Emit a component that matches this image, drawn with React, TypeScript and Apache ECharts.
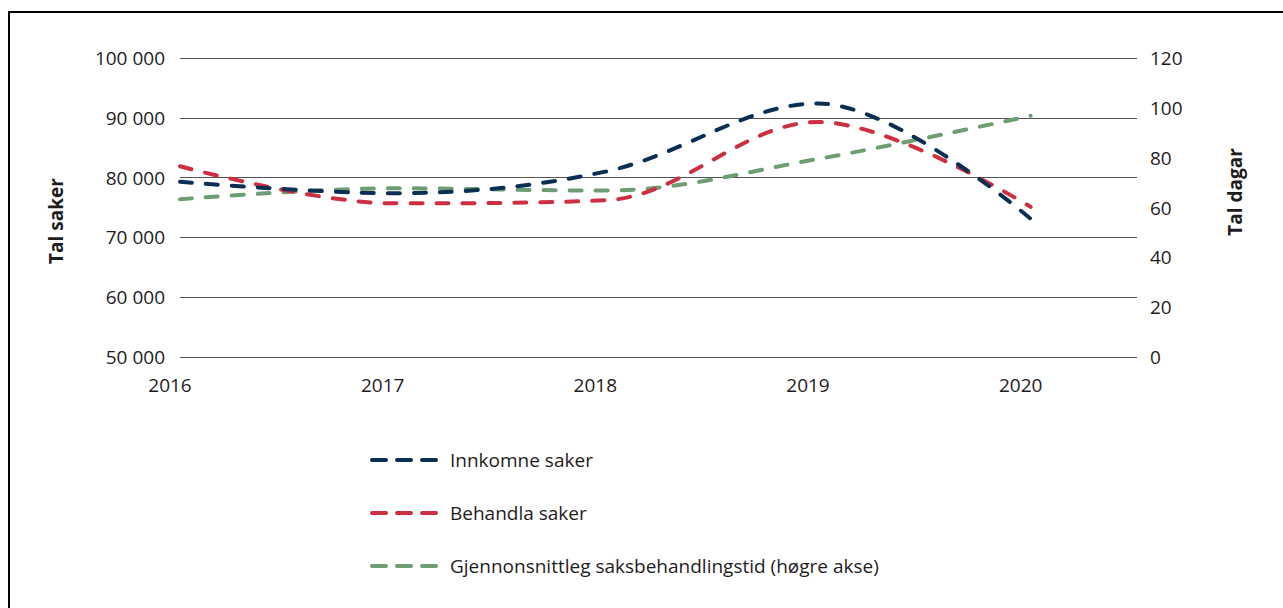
import React, { useEffect, useRef } from "react";
import * as echarts from "echarts";

const years = [2016, 2017, 2018, 2019, 2020];
const innkomne = [79300, 77400, 81000, 92400, 73100];
const behandla = [81900, 75700, 76200, 89300, 75100];
const saksbehandlingstid = [63.3, 67.7, 66.8, 79.5, 96.8];
const seriesNames = [
  "Innkomne saker",
  "Behandla saker",
  "Gjennonsnittleg saksbehandlingstid (høgre akse)",
];
const leftAxisName = "Tal saker";
const rightAxisName = "Tal dagar";

const FONT = "'Open Sans', sans-serif";
const TXT = "#1f1c1d";
const FS = 19;

export default function App() {
  const ref = useRef<HTMLDivElement>(null);
  useEffect(() => {
    if (!ref.current) return;
    const chart = echarts.init(ref.current, undefined, { renderer: "svg" });
    const pair = (vals: number[]) => years.map((y, i) => [y, vals[i]]);
    const lineStyle = (color: string) => ({
      color,
      width: 4,
      type: [12, 14] as any,
      cap: "round" as any,
    });
    chart.setOption({
      animation: false,
      backgroundColor: "#ffffff",
      textStyle: { fontFamily: FONT },
      grid: { left: 180, right: 146, top: 58, bottom: 251 },
      xAxis: {
        type: "value",
        min: 2016,
        max: 2020.5,
        interval: 1,
        axisLine: { show: false },
        axisTick: { show: false },
        splitLine: { show: false },
        axisLabel: {
          color: TXT,
          fontSize: FS,
          fontFamily: FONT,
          margin: 18,
          padding: [0, 20, 0, 0],
          formatter: (v: number) => (Number.isInteger(v) ? String(v) : ""),
        },
      },
      yAxis: [
        {
          type: "value",
          min: 50000,
          max: 100000,
          interval: 10000,
          axisLine: { show: false },
          axisTick: { show: false },
          splitLine: { show: true, lineStyle: { color: "#555", width: 1 } },
          axisLabel: {
            color: TXT,
            fontSize: FS,
            fontFamily: FONT,
            margin: 15,
            formatter: (v: number) =>
              String(v).replace(/\B(?=(\d{3})+(?!\d))/g, " "),
          },
        },
        {
          type: "value",
          min: 0,
          max: 120,
          interval: 20,
          position: "right",
          axisLine: { show: false },
          axisTick: { show: false },
          splitLine: { show: false },
          axisLabel: { color: TXT, fontSize: FS, fontFamily: FONT, margin: 13 },
        },
      ],
      legend: {
        orient: "vertical",
        left: 365,
        top: 445,
        itemWidth: 67,
        itemHeight: 20,
        itemGap: 33,
        itemStyle: { opacity: 0 },
        lineStyle: { type: [14, 11] as any, cap: "round" as any, width: 4 },
        textStyle: {
          color: TXT,
          fontSize: FS,
          fontFamily: FONT,
          lineHeight: 20,
          padding: [0, 0, 0, 6],
        },
        data: seriesNames,
      },
      series: [
        {
          name: seriesNames[0],
          type: "line",
          data: pair(innkomne),
          smooth: 0.35,
          symbol: "none",
          lineStyle: lineStyle("#0b2f52"),
          itemStyle: { color: "#0b2f52" },
          z: 4,
        },
        {
          name: seriesNames[1],
          type: "line",
          data: pair(behandla),
          smooth: 0.35,
          symbol: "none",
          lineStyle: lineStyle("#cc2f42"),
          itemStyle: { color: "#cc2f42" },
          z: 3,
        },
        {
          name: seriesNames[2],
          type: "line",
          yAxisIndex: 1,
          data: pair(saksbehandlingstid),
          smooth: 0.35,
          symbol: "none",
          lineStyle: lineStyle("#6e9c73"),
          itemStyle: { color: "#6e9c73" },
          z: 2,
        },
      ],
      graphic: [
        {
          type: "line",
          shape: { x1: 8, y1: 12, x2: 1283, y2: 12 },
          style: { stroke: "#000", lineWidth: 2 },
        },
        {
          type: "line",
          shape: { x1: 9, y1: 11, x2: 9, y2: 608 },
          style: { stroke: "#000", lineWidth: 2 },
        },
        {
          type: "text",
          x: 56,
          y: 221,
          rotation: Math.PI / 2,
          style: {
            text: leftAxisName,
            fill: TXT,
            font: `bold ${FS}px ${FONT}`,
            align: "center",
            verticalAlign: "middle",
          },
        },
        {
          type: "text",
          x: 1235,
          y: 192,
          rotation: Math.PI / 2,
          style: {
            text: rightAxisName,
            fill: TXT,
            font: `bold ${FS}px ${FONT}`,
            align: "center",
            verticalAlign: "middle",
          },
        },
      ],
    });
    return () => chart.dispose();
  }, []);
  return (
    <div
      ref={ref}
      style={{ position: "absolute", left: 0, top: 0, width: 1283, height: 608 }}
    />
  );
}
